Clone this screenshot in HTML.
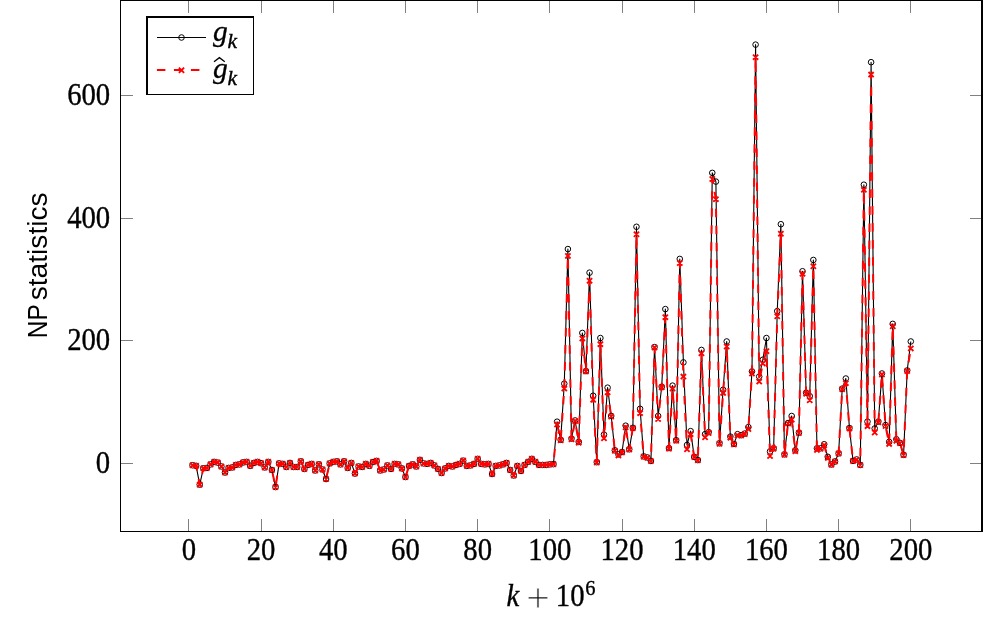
<!DOCTYPE html>
<html lang="en"><head><meta charset="utf-8"><title>NP statistics</title>
<style>html,body{margin:0;padding:0;background:#fff}body{width:991px;height:618px;overflow:hidden}svg{display:block}.t{font-family:"Liberation Serif",serif;fill:#000;stroke:#000;stroke-width:0.35px}.s{font-family:"Liberation Sans",sans-serif;fill:#000}</style></head><body>
<svg width="991" height="618" viewBox="0 0 991 618">
<rect width="991" height="618" fill="#fff"/>
<g opacity="0.999">
<path d="M188.5 531V519M188.5 1V13M261.5 531V519M261.5 1V13M333.5 531V519M333.5 1V13M405.5 531V519M405.5 1V13M477.5 531V519M477.5 1V13M549.5 531V519M549.5 1V13M622.5 531V519M622.5 1V13M694.5 531V519M694.5 1V13M766.5 531V519M766.5 1V13M838.5 531V519M838.5 1V13M910.5 531V519M910.5 1V13M121 463.5H133M982 463.5H970M121 340.5H133M982 340.5H970M121 218.5H133M982 218.5H970M121 95.5H133M982 95.5H970" stroke="#808080" stroke-width="1" fill="none" shape-rendering="crispEdges"/>
<path d="M120 0.5H983M120 531.5H983M120.5 0V532" fill="none" stroke="#000" stroke-width="1" shape-rendering="crispEdges"/>
<path d="M982 0V532" fill="none" stroke="#000" stroke-width="2" shape-rendering="crispEdges"/>
<polyline points="192.51,465.24 196.12,465.85 199.73,484.62 203.34,468.31 206.95,467.94 210.56,464.38 214.17,461.87 217.78,462.60 221.39,466.47 225.00,472.48 228.60,467.94 232.21,467.45 235.82,464.93 239.43,464.38 243.04,462.42 246.65,461.87 250.26,465.85 253.87,462.91 257.48,461.87 261.09,463.22 264.70,467.45 268.31,461.87 271.92,469.96 275.53,487.07 279.14,463.40 282.75,463.89 286.36,466.96 289.97,462.91 293.58,466.96 297.19,466.96 300.79,461.38 304.40,468.92 308.01,464.93 311.62,463.89 315.23,470.45 318.84,464.38 322.45,469.47 326.06,479.04 329.67,463.40 333.28,461.87 336.89,461.38 340.50,464.38 344.11,461.38 347.72,467.94 351.33,462.91 354.94,473.52 358.55,466.47 362.16,466.96 365.77,463.89 369.38,465.85 372.98,462.05 376.59,460.89 380.20,470.45 383.81,469.47 387.42,465.42 391.03,468.92 394.64,463.89 398.25,464.38 401.86,468.43 405.47,477.02 409.08,465.91 412.69,464.38 416.30,466.47 419.91,459.84 423.52,463.40 427.13,463.89 430.74,462.91 434.35,465.42 437.96,468.92 441.57,472.97 445.17,468.43 448.78,465.91 452.39,466.47 456.00,464.93 459.61,463.89 463.22,460.64 466.83,465.91 470.44,465.42 474.05,463.89 477.66,458.86 481.27,463.89 484.88,464.38 488.49,463.89 492.10,474.01 495.71,465.91 499.32,465.42 502.93,464.38 506.54,462.91 510.15,469.96 513.75,475.48 517.36,465.91 520.97,470.94 524.58,464.93 528.19,461.87 531.80,458.86 535.41,461.87 539.02,464.93 542.63,464.93 546.24,464.93 549.85,464.38 553.46,464.14 557.07,421.70 560.68,439.85 564.29,383.67 567.90,249.05 571.51,438.62 575.12,420.47 578.73,441.93 582.34,332.95 585.95,371.10 589.55,272.66 593.16,395.75 596.77,462.17 600.38,338.04 603.99,434.57 607.60,387.66 611.21,415.99 614.82,450.34 618.43,454.38 622.04,451.99 625.65,425.68 629.26,449.29 632.87,427.83 636.48,226.79 640.09,408.82 643.70,456.41 647.31,457.45 650.92,460.95 654.53,347.12 658.13,415.99 661.74,386.74 665.35,309.09 668.96,448.07 672.57,385.63 676.18,440.22 679.79,258.93 683.40,362.39 687.01,445.00 690.62,431.14 694.23,456.84 697.84,460.09 701.45,349.94 705.06,434.15 708.67,432.12 712.28,172.88 715.89,181.59 719.50,443.28 723.11,389.80 726.72,341.48 730.33,436.60 733.93,443.90 737.54,434.15 741.15,435.19 744.76,433.59 748.37,427.09 751.98,371.40 755.59,44.64 759.20,376.56 762.81,359.75 766.42,338.04 770.03,451.38 773.64,448.31 777.25,311.12 780.86,224.21 784.47,454.38 788.08,423.04 791.69,415.99 795.30,450.34 798.91,432.55 802.51,271.25 806.12,392.69 809.73,396.12 813.34,259.97 816.95,448.31 820.56,448.31 824.17,444.27 827.78,456.84 831.39,464.50 835.00,461.50 838.61,453.40 842.22,388.64 845.83,378.52 849.44,428.14 853.05,460.89 856.66,459.47 860.27,464.93 863.88,184.72 867.49,421.63 871.10,62.18 874.71,428.50 878.31,421.63 881.92,373.49 885.53,425.07 889.14,441.87 892.75,323.87 896.36,439.24 899.97,442.85 903.58,454.81 907.19,370.49 910.80,341.48" fill="none" stroke="#000" stroke-width="1.1" stroke-linejoin="round"/>
<g fill="none" stroke="#000" stroke-width="1">
<circle cx="192.51" cy="465.24" r="2.8"/>
<circle cx="196.12" cy="465.85" r="2.8"/>
<circle cx="199.73" cy="484.62" r="2.8"/>
<circle cx="203.34" cy="468.31" r="2.8"/>
<circle cx="206.95" cy="467.94" r="2.8"/>
<circle cx="210.56" cy="464.38" r="2.8"/>
<circle cx="214.17" cy="461.87" r="2.8"/>
<circle cx="217.78" cy="462.60" r="2.8"/>
<circle cx="221.39" cy="466.47" r="2.8"/>
<circle cx="225.00" cy="472.48" r="2.8"/>
<circle cx="228.60" cy="467.94" r="2.8"/>
<circle cx="232.21" cy="467.45" r="2.8"/>
<circle cx="235.82" cy="464.93" r="2.8"/>
<circle cx="239.43" cy="464.38" r="2.8"/>
<circle cx="243.04" cy="462.42" r="2.8"/>
<circle cx="246.65" cy="461.87" r="2.8"/>
<circle cx="250.26" cy="465.85" r="2.8"/>
<circle cx="253.87" cy="462.91" r="2.8"/>
<circle cx="257.48" cy="461.87" r="2.8"/>
<circle cx="261.09" cy="463.22" r="2.8"/>
<circle cx="264.70" cy="467.45" r="2.8"/>
<circle cx="268.31" cy="461.87" r="2.8"/>
<circle cx="271.92" cy="469.96" r="2.8"/>
<circle cx="275.53" cy="487.07" r="2.8"/>
<circle cx="279.14" cy="463.40" r="2.8"/>
<circle cx="282.75" cy="463.89" r="2.8"/>
<circle cx="286.36" cy="466.96" r="2.8"/>
<circle cx="289.97" cy="462.91" r="2.8"/>
<circle cx="293.58" cy="466.96" r="2.8"/>
<circle cx="297.19" cy="466.96" r="2.8"/>
<circle cx="300.79" cy="461.38" r="2.8"/>
<circle cx="304.40" cy="468.92" r="2.8"/>
<circle cx="308.01" cy="464.93" r="2.8"/>
<circle cx="311.62" cy="463.89" r="2.8"/>
<circle cx="315.23" cy="470.45" r="2.8"/>
<circle cx="318.84" cy="464.38" r="2.8"/>
<circle cx="322.45" cy="469.47" r="2.8"/>
<circle cx="326.06" cy="479.04" r="2.8"/>
<circle cx="329.67" cy="463.40" r="2.8"/>
<circle cx="333.28" cy="461.87" r="2.8"/>
<circle cx="336.89" cy="461.38" r="2.8"/>
<circle cx="340.50" cy="464.38" r="2.8"/>
<circle cx="344.11" cy="461.38" r="2.8"/>
<circle cx="347.72" cy="467.94" r="2.8"/>
<circle cx="351.33" cy="462.91" r="2.8"/>
<circle cx="354.94" cy="473.52" r="2.8"/>
<circle cx="358.55" cy="466.47" r="2.8"/>
<circle cx="362.16" cy="466.96" r="2.8"/>
<circle cx="365.77" cy="463.89" r="2.8"/>
<circle cx="369.38" cy="465.85" r="2.8"/>
<circle cx="372.98" cy="462.05" r="2.8"/>
<circle cx="376.59" cy="460.89" r="2.8"/>
<circle cx="380.20" cy="470.45" r="2.8"/>
<circle cx="383.81" cy="469.47" r="2.8"/>
<circle cx="387.42" cy="465.42" r="2.8"/>
<circle cx="391.03" cy="468.92" r="2.8"/>
<circle cx="394.64" cy="463.89" r="2.8"/>
<circle cx="398.25" cy="464.38" r="2.8"/>
<circle cx="401.86" cy="468.43" r="2.8"/>
<circle cx="405.47" cy="477.02" r="2.8"/>
<circle cx="409.08" cy="465.91" r="2.8"/>
<circle cx="412.69" cy="464.38" r="2.8"/>
<circle cx="416.30" cy="466.47" r="2.8"/>
<circle cx="419.91" cy="459.84" r="2.8"/>
<circle cx="423.52" cy="463.40" r="2.8"/>
<circle cx="427.13" cy="463.89" r="2.8"/>
<circle cx="430.74" cy="462.91" r="2.8"/>
<circle cx="434.35" cy="465.42" r="2.8"/>
<circle cx="437.96" cy="468.92" r="2.8"/>
<circle cx="441.57" cy="472.97" r="2.8"/>
<circle cx="445.17" cy="468.43" r="2.8"/>
<circle cx="448.78" cy="465.91" r="2.8"/>
<circle cx="452.39" cy="466.47" r="2.8"/>
<circle cx="456.00" cy="464.93" r="2.8"/>
<circle cx="459.61" cy="463.89" r="2.8"/>
<circle cx="463.22" cy="460.64" r="2.8"/>
<circle cx="466.83" cy="465.91" r="2.8"/>
<circle cx="470.44" cy="465.42" r="2.8"/>
<circle cx="474.05" cy="463.89" r="2.8"/>
<circle cx="477.66" cy="458.86" r="2.8"/>
<circle cx="481.27" cy="463.89" r="2.8"/>
<circle cx="484.88" cy="464.38" r="2.8"/>
<circle cx="488.49" cy="463.89" r="2.8"/>
<circle cx="492.10" cy="474.01" r="2.8"/>
<circle cx="495.71" cy="465.91" r="2.8"/>
<circle cx="499.32" cy="465.42" r="2.8"/>
<circle cx="502.93" cy="464.38" r="2.8"/>
<circle cx="506.54" cy="462.91" r="2.8"/>
<circle cx="510.15" cy="469.96" r="2.8"/>
<circle cx="513.75" cy="475.48" r="2.8"/>
<circle cx="517.36" cy="465.91" r="2.8"/>
<circle cx="520.97" cy="470.94" r="2.8"/>
<circle cx="524.58" cy="464.93" r="2.8"/>
<circle cx="528.19" cy="461.87" r="2.8"/>
<circle cx="531.80" cy="458.86" r="2.8"/>
<circle cx="535.41" cy="461.87" r="2.8"/>
<circle cx="539.02" cy="464.93" r="2.8"/>
<circle cx="542.63" cy="464.93" r="2.8"/>
<circle cx="546.24" cy="464.93" r="2.8"/>
<circle cx="549.85" cy="464.38" r="2.8"/>
<circle cx="553.46" cy="464.14" r="2.8"/>
<circle cx="557.07" cy="421.70" r="2.8"/>
<circle cx="560.68" cy="439.85" r="2.8"/>
<circle cx="564.29" cy="383.67" r="2.8"/>
<circle cx="567.90" cy="249.05" r="2.8"/>
<circle cx="571.51" cy="438.62" r="2.8"/>
<circle cx="575.12" cy="420.47" r="2.8"/>
<circle cx="578.73" cy="441.93" r="2.8"/>
<circle cx="582.34" cy="332.95" r="2.8"/>
<circle cx="585.95" cy="371.10" r="2.8"/>
<circle cx="589.55" cy="272.66" r="2.8"/>
<circle cx="593.16" cy="395.75" r="2.8"/>
<circle cx="596.77" cy="462.17" r="2.8"/>
<circle cx="600.38" cy="338.04" r="2.8"/>
<circle cx="603.99" cy="434.57" r="2.8"/>
<circle cx="607.60" cy="387.66" r="2.8"/>
<circle cx="611.21" cy="415.99" r="2.8"/>
<circle cx="614.82" cy="450.34" r="2.8"/>
<circle cx="618.43" cy="454.38" r="2.8"/>
<circle cx="622.04" cy="451.99" r="2.8"/>
<circle cx="625.65" cy="425.68" r="2.8"/>
<circle cx="629.26" cy="449.29" r="2.8"/>
<circle cx="632.87" cy="427.83" r="2.8"/>
<circle cx="636.48" cy="226.79" r="2.8"/>
<circle cx="640.09" cy="408.82" r="2.8"/>
<circle cx="643.70" cy="456.41" r="2.8"/>
<circle cx="647.31" cy="457.45" r="2.8"/>
<circle cx="650.92" cy="460.95" r="2.8"/>
<circle cx="654.53" cy="347.12" r="2.8"/>
<circle cx="658.13" cy="415.99" r="2.8"/>
<circle cx="661.74" cy="386.74" r="2.8"/>
<circle cx="665.35" cy="309.09" r="2.8"/>
<circle cx="668.96" cy="448.07" r="2.8"/>
<circle cx="672.57" cy="385.63" r="2.8"/>
<circle cx="676.18" cy="440.22" r="2.8"/>
<circle cx="679.79" cy="258.93" r="2.8"/>
<circle cx="683.40" cy="362.39" r="2.8"/>
<circle cx="687.01" cy="445.00" r="2.8"/>
<circle cx="690.62" cy="431.14" r="2.8"/>
<circle cx="694.23" cy="456.84" r="2.8"/>
<circle cx="697.84" cy="460.09" r="2.8"/>
<circle cx="701.45" cy="349.94" r="2.8"/>
<circle cx="705.06" cy="434.15" r="2.8"/>
<circle cx="708.67" cy="432.12" r="2.8"/>
<circle cx="712.28" cy="172.88" r="2.8"/>
<circle cx="715.89" cy="181.59" r="2.8"/>
<circle cx="719.50" cy="443.28" r="2.8"/>
<circle cx="723.11" cy="389.80" r="2.8"/>
<circle cx="726.72" cy="341.48" r="2.8"/>
<circle cx="730.33" cy="436.60" r="2.8"/>
<circle cx="733.93" cy="443.90" r="2.8"/>
<circle cx="737.54" cy="434.15" r="2.8"/>
<circle cx="741.15" cy="435.19" r="2.8"/>
<circle cx="744.76" cy="433.59" r="2.8"/>
<circle cx="748.37" cy="427.09" r="2.8"/>
<circle cx="751.98" cy="371.40" r="2.8"/>
<circle cx="755.59" cy="44.64" r="2.8"/>
<circle cx="759.20" cy="376.56" r="2.8"/>
<circle cx="762.81" cy="359.75" r="2.8"/>
<circle cx="766.42" cy="338.04" r="2.8"/>
<circle cx="770.03" cy="451.38" r="2.8"/>
<circle cx="773.64" cy="448.31" r="2.8"/>
<circle cx="777.25" cy="311.12" r="2.8"/>
<circle cx="780.86" cy="224.21" r="2.8"/>
<circle cx="784.47" cy="454.38" r="2.8"/>
<circle cx="788.08" cy="423.04" r="2.8"/>
<circle cx="791.69" cy="415.99" r="2.8"/>
<circle cx="795.30" cy="450.34" r="2.8"/>
<circle cx="798.91" cy="432.55" r="2.8"/>
<circle cx="802.51" cy="271.25" r="2.8"/>
<circle cx="806.12" cy="392.69" r="2.8"/>
<circle cx="809.73" cy="396.12" r="2.8"/>
<circle cx="813.34" cy="259.97" r="2.8"/>
<circle cx="816.95" cy="448.31" r="2.8"/>
<circle cx="820.56" cy="448.31" r="2.8"/>
<circle cx="824.17" cy="444.27" r="2.8"/>
<circle cx="827.78" cy="456.84" r="2.8"/>
<circle cx="831.39" cy="464.50" r="2.8"/>
<circle cx="835.00" cy="461.50" r="2.8"/>
<circle cx="838.61" cy="453.40" r="2.8"/>
<circle cx="842.22" cy="388.64" r="2.8"/>
<circle cx="845.83" cy="378.52" r="2.8"/>
<circle cx="849.44" cy="428.14" r="2.8"/>
<circle cx="853.05" cy="460.89" r="2.8"/>
<circle cx="856.66" cy="459.47" r="2.8"/>
<circle cx="860.27" cy="464.93" r="2.8"/>
<circle cx="863.88" cy="184.72" r="2.8"/>
<circle cx="867.49" cy="421.63" r="2.8"/>
<circle cx="871.10" cy="62.18" r="2.8"/>
<circle cx="874.71" cy="428.50" r="2.8"/>
<circle cx="878.31" cy="421.63" r="2.8"/>
<circle cx="881.92" cy="373.49" r="2.8"/>
<circle cx="885.53" cy="425.07" r="2.8"/>
<circle cx="889.14" cy="441.87" r="2.8"/>
<circle cx="892.75" cy="323.87" r="2.8"/>
<circle cx="896.36" cy="439.24" r="2.8"/>
<circle cx="899.97" cy="442.85" r="2.8"/>
<circle cx="903.58" cy="454.81" r="2.8"/>
<circle cx="907.19" cy="370.49" r="2.8"/>
<circle cx="910.80" cy="341.48" r="2.8"/>
</g>
<polyline points="192.51,465.24 196.12,465.85 199.73,484.62 203.34,468.31 206.95,467.94 210.56,464.38 214.17,461.87 217.78,462.60 221.39,466.47 225.00,472.48 228.60,467.94 232.21,467.45 235.82,464.93 239.43,464.38 243.04,462.42 246.65,461.87 250.26,465.85 253.87,462.91 257.48,461.87 261.09,463.22 264.70,467.45 268.31,461.87 271.92,469.96 275.53,487.07 279.14,463.40 282.75,463.89 286.36,466.96 289.97,462.91 293.58,466.96 297.19,466.96 300.79,461.38 304.40,468.92 308.01,464.93 311.62,463.89 315.23,470.45 318.84,464.38 322.45,469.47 326.06,479.04 329.67,463.40 333.28,461.87 336.89,461.38 340.50,464.38 344.11,461.38 347.72,467.94 351.33,462.91 354.94,473.52 358.55,466.47 362.16,466.96 365.77,463.89 369.38,465.85 372.98,462.05 376.59,460.89 380.20,470.45 383.81,469.47 387.42,465.42 391.03,468.92 394.64,463.89 398.25,464.38 401.86,468.43 405.47,477.02 409.08,465.91 412.69,464.38 416.30,466.47 419.91,459.84 423.52,463.40 427.13,463.89 430.74,462.91 434.35,465.42 437.96,468.92 441.57,472.97 445.17,468.43 448.78,465.91 452.39,466.47 456.00,464.93 459.61,463.89 463.22,460.64 466.83,465.91 470.44,465.42 474.05,463.89 477.66,458.86 481.27,463.89 484.88,464.38 488.49,463.89 492.10,474.01 495.71,465.91 499.32,465.42 502.93,464.38 506.54,462.91 510.15,469.96 513.75,475.48 517.36,465.91 520.97,470.94 524.58,464.93 528.19,461.87 531.80,458.86 535.41,461.87 539.02,464.93 542.63,464.93 546.24,464.93 549.85,464.38 553.46,464.14 557.07,424.46 560.68,440.22 564.29,388.58 567.90,255.92 571.51,439.24 575.12,421.08 578.73,442.67 582.34,338.41 585.95,371.40 589.55,280.76 593.16,399.80 596.77,462.48 600.38,344.11 603.99,438.25 607.60,392.26 611.21,416.48 614.82,450.77 618.43,455.43 622.04,452.36 625.65,427.22 629.26,449.60 632.87,428.14 636.48,234.27 640.09,413.11 643.70,456.65 647.31,457.70 650.92,461.07 654.53,347.49 658.13,419.00 661.74,387.35 665.35,317.19 668.96,448.68 672.57,388.58 676.18,440.71 679.79,262.97 683.40,376.56 687.01,449.29 690.62,434.15 694.23,457.08 697.84,460.33 701.45,353.25 705.06,437.21 708.67,433.04 712.28,178.95 715.89,199.19 719.50,443.77 723.11,392.87 726.72,346.51 730.33,437.64 733.93,444.39 737.54,435.49 741.15,435.49 744.76,433.96 748.37,429.06 751.98,373.49 755.59,57.15 759.20,381.59 762.81,363.43 766.42,351.17 770.03,456.04 773.64,448.68 777.25,316.21 780.86,233.72 784.47,454.81 788.08,423.54 791.69,419.61 795.30,451.13 798.91,433.04 802.51,273.71 806.12,393.79 809.73,400.23 813.34,266.22 816.95,449.91 820.56,448.68 824.17,445.31 827.78,457.88 831.39,464.63 835.00,461.56 838.61,453.59 842.22,389.19 845.83,383.18 849.44,428.44 853.05,460.95 856.66,459.72 860.27,465.06 863.88,189.81 867.49,426.11 871.10,74.57 874.71,432.55 878.31,422.31 881.92,374.47 885.53,425.99 889.14,443.90 892.75,326.27 896.36,440.71 899.97,443.16 903.58,455.06 907.19,371.10 910.80,348.41" fill="none" stroke="#f00" stroke-width="2" stroke-dasharray="8.5 8.5" stroke-linejoin="round"/>
<path d="M189.91 462.64l5.20 5.20M189.91 467.84l5.20 -5.20M193.52 463.25l5.20 5.20M193.52 468.45l5.20 -5.20M197.13 482.02l5.20 5.20M197.13 487.22l5.20 -5.20M200.74 465.71l5.20 5.20M200.74 470.91l5.20 -5.20M204.35 465.34l5.20 5.20M204.35 470.54l5.20 -5.20M207.96 461.78l5.20 5.20M207.96 466.98l5.20 -5.20M211.57 459.27l5.20 5.20M211.57 464.47l5.20 -5.20M215.18 460.00l5.20 5.20M215.18 465.20l5.20 -5.20M218.79 463.87l5.20 5.20M218.79 469.07l5.20 -5.20M222.40 469.88l5.20 5.20M222.40 475.08l5.20 -5.20M226.00 465.34l5.20 5.20M226.00 470.54l5.20 -5.20M229.61 464.85l5.20 5.20M229.61 470.05l5.20 -5.20M233.22 462.33l5.20 5.20M233.22 467.53l5.20 -5.20M236.83 461.78l5.20 5.20M236.83 466.98l5.20 -5.20M240.44 459.82l5.20 5.20M240.44 465.02l5.20 -5.20M244.05 459.27l5.20 5.20M244.05 464.47l5.20 -5.20M247.66 463.25l5.20 5.20M247.66 468.45l5.20 -5.20M251.27 460.31l5.20 5.20M251.27 465.51l5.20 -5.20M254.88 459.27l5.20 5.20M254.88 464.47l5.20 -5.20M258.49 460.62l5.20 5.20M258.49 465.82l5.20 -5.20M262.10 464.85l5.20 5.20M262.10 470.05l5.20 -5.20M265.71 459.27l5.20 5.20M265.71 464.47l5.20 -5.20M269.32 467.36l5.20 5.20M269.32 472.56l5.20 -5.20M272.93 484.47l5.20 5.20M272.93 489.67l5.20 -5.20M276.54 460.80l5.20 5.20M276.54 466.00l5.20 -5.20M280.15 461.29l5.20 5.20M280.15 466.49l5.20 -5.20M283.76 464.36l5.20 5.20M283.76 469.56l5.20 -5.20M287.37 460.31l5.20 5.20M287.37 465.51l5.20 -5.20M290.98 464.36l5.20 5.20M290.98 469.56l5.20 -5.20M294.58 464.36l5.20 5.20M294.58 469.56l5.20 -5.20M298.19 458.78l5.20 5.20M298.19 463.98l5.20 -5.20M301.80 466.32l5.20 5.20M301.80 471.52l5.20 -5.20M305.41 462.33l5.20 5.20M305.41 467.53l5.20 -5.20M309.02 461.29l5.20 5.20M309.02 466.49l5.20 -5.20M312.63 467.85l5.20 5.20M312.63 473.05l5.20 -5.20M316.24 461.78l5.20 5.20M316.24 466.98l5.20 -5.20M319.85 466.87l5.20 5.20M319.85 472.07l5.20 -5.20M323.46 476.44l5.20 5.20M323.46 481.64l5.20 -5.20M327.07 460.80l5.20 5.20M327.07 466.00l5.20 -5.20M330.68 459.27l5.20 5.20M330.68 464.47l5.20 -5.20M334.29 458.78l5.20 5.20M334.29 463.98l5.20 -5.20M337.90 461.78l5.20 5.20M337.90 466.98l5.20 -5.20M341.51 458.78l5.20 5.20M341.51 463.98l5.20 -5.20M345.12 465.34l5.20 5.20M345.12 470.54l5.20 -5.20M348.73 460.31l5.20 5.20M348.73 465.51l5.20 -5.20M352.34 470.92l5.20 5.20M352.34 476.12l5.20 -5.20M355.95 463.87l5.20 5.20M355.95 469.07l5.20 -5.20M359.56 464.36l5.20 5.20M359.56 469.56l5.20 -5.20M363.17 461.29l5.20 5.20M363.17 466.49l5.20 -5.20M366.77 463.25l5.20 5.20M366.77 468.45l5.20 -5.20M370.38 459.45l5.20 5.20M370.38 464.65l5.20 -5.20M373.99 458.29l5.20 5.20M373.99 463.49l5.20 -5.20M377.60 467.85l5.20 5.20M377.60 473.05l5.20 -5.20M381.21 466.87l5.20 5.20M381.21 472.07l5.20 -5.20M384.82 462.82l5.20 5.20M384.82 468.02l5.20 -5.20M388.43 466.32l5.20 5.20M388.43 471.52l5.20 -5.20M392.04 461.29l5.20 5.20M392.04 466.49l5.20 -5.20M395.65 461.78l5.20 5.20M395.65 466.98l5.20 -5.20M399.26 465.83l5.20 5.20M399.26 471.03l5.20 -5.20M402.87 474.42l5.20 5.20M402.87 479.62l5.20 -5.20M406.48 463.31l5.20 5.20M406.48 468.51l5.20 -5.20M410.09 461.78l5.20 5.20M410.09 466.98l5.20 -5.20M413.70 463.87l5.20 5.20M413.70 469.07l5.20 -5.20M417.31 457.24l5.20 5.20M417.31 462.44l5.20 -5.20M420.92 460.80l5.20 5.20M420.92 466.00l5.20 -5.20M424.53 461.29l5.20 5.20M424.53 466.49l5.20 -5.20M428.14 460.31l5.20 5.20M428.14 465.51l5.20 -5.20M431.75 462.82l5.20 5.20M431.75 468.02l5.20 -5.20M435.36 466.32l5.20 5.20M435.36 471.52l5.20 -5.20M438.97 470.37l5.20 5.20M438.97 475.57l5.20 -5.20M442.57 465.83l5.20 5.20M442.57 471.03l5.20 -5.20M446.18 463.31l5.20 5.20M446.18 468.51l5.20 -5.20M449.79 463.87l5.20 5.20M449.79 469.07l5.20 -5.20M453.40 462.33l5.20 5.20M453.40 467.53l5.20 -5.20M457.01 461.29l5.20 5.20M457.01 466.49l5.20 -5.20M460.62 458.04l5.20 5.20M460.62 463.24l5.20 -5.20M464.23 463.31l5.20 5.20M464.23 468.51l5.20 -5.20M467.84 462.82l5.20 5.20M467.84 468.02l5.20 -5.20M471.45 461.29l5.20 5.20M471.45 466.49l5.20 -5.20M475.06 456.26l5.20 5.20M475.06 461.46l5.20 -5.20M478.67 461.29l5.20 5.20M478.67 466.49l5.20 -5.20M482.28 461.78l5.20 5.20M482.28 466.98l5.20 -5.20M485.89 461.29l5.20 5.20M485.89 466.49l5.20 -5.20M489.50 471.41l5.20 5.20M489.50 476.61l5.20 -5.20M493.11 463.31l5.20 5.20M493.11 468.51l5.20 -5.20M496.72 462.82l5.20 5.20M496.72 468.02l5.20 -5.20M500.33 461.78l5.20 5.20M500.33 466.98l5.20 -5.20M503.94 460.31l5.20 5.20M503.94 465.51l5.20 -5.20M507.55 467.36l5.20 5.20M507.55 472.56l5.20 -5.20M511.15 472.88l5.20 5.20M511.15 478.08l5.20 -5.20M514.76 463.31l5.20 5.20M514.76 468.51l5.20 -5.20M518.37 468.34l5.20 5.20M518.37 473.54l5.20 -5.20M521.98 462.33l5.20 5.20M521.98 467.53l5.20 -5.20M525.59 459.27l5.20 5.20M525.59 464.47l5.20 -5.20M529.20 456.26l5.20 5.20M529.20 461.46l5.20 -5.20M532.81 459.27l5.20 5.20M532.81 464.47l5.20 -5.20M536.42 462.33l5.20 5.20M536.42 467.53l5.20 -5.20M540.03 462.33l5.20 5.20M540.03 467.53l5.20 -5.20M543.64 462.33l5.20 5.20M543.64 467.53l5.20 -5.20M547.25 461.78l5.20 5.20M547.25 466.98l5.20 -5.20M550.86 461.54l5.20 5.20M550.86 466.74l5.20 -5.20M554.47 421.86l5.20 5.20M554.47 427.06l5.20 -5.20M558.08 437.62l5.20 5.20M558.08 442.82l5.20 -5.20M561.69 385.98l5.20 5.20M561.69 391.18l5.20 -5.20M565.30 253.32l5.20 5.20M565.30 258.52l5.20 -5.20M568.91 436.64l5.20 5.20M568.91 441.84l5.20 -5.20M572.52 418.48l5.20 5.20M572.52 423.68l5.20 -5.20M576.13 440.07l5.20 5.20M576.13 445.27l5.20 -5.20M579.74 335.81l5.20 5.20M579.74 341.01l5.20 -5.20M583.35 368.80l5.20 5.20M583.35 374.00l5.20 -5.20M586.95 278.16l5.20 5.20M586.95 283.36l5.20 -5.20M590.56 397.20l5.20 5.20M590.56 402.40l5.20 -5.20M594.17 459.88l5.20 5.20M594.17 465.08l5.20 -5.20M597.78 341.51l5.20 5.20M597.78 346.71l5.20 -5.20M601.39 435.65l5.20 5.20M601.39 440.85l5.20 -5.20M605.00 389.66l5.20 5.20M605.00 394.86l5.20 -5.20M608.61 413.88l5.20 5.20M608.61 419.08l5.20 -5.20M612.22 448.17l5.20 5.20M612.22 453.37l5.20 -5.20M615.83 452.83l5.20 5.20M615.83 458.03l5.20 -5.20M619.44 449.76l5.20 5.20M619.44 454.96l5.20 -5.20M623.05 424.62l5.20 5.20M623.05 429.82l5.20 -5.20M626.66 447.00l5.20 5.20M626.66 452.20l5.20 -5.20M630.27 425.54l5.20 5.20M630.27 430.74l5.20 -5.20M633.88 231.67l5.20 5.20M633.88 236.87l5.20 -5.20M637.49 410.51l5.20 5.20M637.49 415.71l5.20 -5.20M641.10 454.05l5.20 5.20M641.10 459.25l5.20 -5.20M644.71 455.10l5.20 5.20M644.71 460.30l5.20 -5.20M648.32 458.47l5.20 5.20M648.32 463.67l5.20 -5.20M651.93 344.89l5.20 5.20M651.93 350.09l5.20 -5.20M655.53 416.40l5.20 5.20M655.53 421.60l5.20 -5.20M659.14 384.75l5.20 5.20M659.14 389.95l5.20 -5.20M662.75 314.59l5.20 5.20M662.75 319.79l5.20 -5.20M666.36 446.08l5.20 5.20M666.36 451.28l5.20 -5.20M669.97 385.98l5.20 5.20M669.97 391.18l5.20 -5.20M673.58 438.11l5.20 5.20M673.58 443.31l5.20 -5.20M677.19 260.37l5.20 5.20M677.19 265.57l5.20 -5.20M680.80 373.96l5.20 5.20M680.80 379.16l5.20 -5.20M684.41 446.69l5.20 5.20M684.41 451.89l5.20 -5.20M688.02 431.55l5.20 5.20M688.02 436.75l5.20 -5.20M691.63 454.48l5.20 5.20M691.63 459.68l5.20 -5.20M695.24 457.73l5.20 5.20M695.24 462.93l5.20 -5.20M698.85 350.65l5.20 5.20M698.85 355.85l5.20 -5.20M702.46 434.61l5.20 5.20M702.46 439.81l5.20 -5.20M706.07 430.44l5.20 5.20M706.07 435.64l5.20 -5.20M709.68 176.35l5.20 5.20M709.68 181.55l5.20 -5.20M713.29 196.59l5.20 5.20M713.29 201.79l5.20 -5.20M716.90 441.17l5.20 5.20M716.90 446.37l5.20 -5.20M720.51 390.27l5.20 5.20M720.51 395.47l5.20 -5.20M724.12 343.91l5.20 5.20M724.12 349.11l5.20 -5.20M727.73 435.04l5.20 5.20M727.73 440.24l5.20 -5.20M731.33 441.79l5.20 5.20M731.33 446.99l5.20 -5.20M734.94 432.89l5.20 5.20M734.94 438.09l5.20 -5.20M738.55 432.89l5.20 5.20M738.55 438.09l5.20 -5.20M742.16 431.36l5.20 5.20M742.16 436.56l5.20 -5.20M745.77 426.46l5.20 5.20M745.77 431.66l5.20 -5.20M749.38 370.89l5.20 5.20M749.38 376.09l5.20 -5.20M752.99 54.55l5.20 5.20M752.99 59.75l5.20 -5.20M756.60 378.99l5.20 5.20M756.60 384.19l5.20 -5.20M760.21 360.83l5.20 5.20M760.21 366.03l5.20 -5.20M763.82 348.57l5.20 5.20M763.82 353.77l5.20 -5.20M767.43 453.44l5.20 5.20M767.43 458.64l5.20 -5.20M771.04 446.08l5.20 5.20M771.04 451.28l5.20 -5.20M774.65 313.61l5.20 5.20M774.65 318.81l5.20 -5.20M778.26 231.12l5.20 5.20M778.26 236.32l5.20 -5.20M781.87 452.21l5.20 5.20M781.87 457.41l5.20 -5.20M785.48 420.94l5.20 5.20M785.48 426.14l5.20 -5.20M789.09 417.01l5.20 5.20M789.09 422.21l5.20 -5.20M792.70 448.53l5.20 5.20M792.70 453.73l5.20 -5.20M796.31 430.44l5.20 5.20M796.31 435.64l5.20 -5.20M799.91 271.11l5.20 5.20M799.91 276.31l5.20 -5.20M803.52 391.19l5.20 5.20M803.52 396.39l5.20 -5.20M807.13 397.63l5.20 5.20M807.13 402.83l5.20 -5.20M810.74 263.62l5.20 5.20M810.74 268.82l5.20 -5.20M814.35 447.31l5.20 5.20M814.35 452.51l5.20 -5.20M817.96 446.08l5.20 5.20M817.96 451.28l5.20 -5.20M821.57 442.71l5.20 5.20M821.57 447.91l5.20 -5.20M825.18 455.28l5.20 5.20M825.18 460.48l5.20 -5.20M828.79 462.03l5.20 5.20M828.79 467.23l5.20 -5.20M832.40 458.96l5.20 5.20M832.40 464.16l5.20 -5.20M836.01 450.99l5.20 5.20M836.01 456.19l5.20 -5.20M839.62 386.59l5.20 5.20M839.62 391.79l5.20 -5.20M843.23 380.58l5.20 5.20M843.23 385.78l5.20 -5.20M846.84 425.84l5.20 5.20M846.84 431.04l5.20 -5.20M850.45 458.35l5.20 5.20M850.45 463.55l5.20 -5.20M854.06 457.12l5.20 5.20M854.06 462.32l5.20 -5.20M857.67 462.46l5.20 5.20M857.67 467.66l5.20 -5.20M861.28 187.21l5.20 5.20M861.28 192.41l5.20 -5.20M864.89 423.51l5.20 5.20M864.89 428.71l5.20 -5.20M868.50 71.97l5.20 5.20M868.50 77.17l5.20 -5.20M872.11 429.95l5.20 5.20M872.11 435.15l5.20 -5.20M875.71 419.71l5.20 5.20M875.71 424.91l5.20 -5.20M879.32 371.87l5.20 5.20M879.32 377.07l5.20 -5.20M882.93 423.39l5.20 5.20M882.93 428.59l5.20 -5.20M886.54 441.30l5.20 5.20M886.54 446.50l5.20 -5.20M890.15 323.67l5.20 5.20M890.15 328.87l5.20 -5.20M893.76 438.11l5.20 5.20M893.76 443.31l5.20 -5.20M897.37 440.56l5.20 5.20M897.37 445.76l5.20 -5.20M900.98 452.46l5.20 5.20M900.98 457.66l5.20 -5.20M904.59 368.50l5.20 5.20M904.59 373.70l5.20 -5.20M908.20 345.81l5.20 5.20M908.20 351.01l5.20 -5.20" stroke="#f00" stroke-width="1.9" fill="none"/>
<rect x="147" y="17" width="106.5" height="77.5" fill="#fff"/>
<path d="M146 17H254M147 16V95" stroke="#000" stroke-width="2" fill="none" shape-rendering="crispEdges"/>
<path d="M146 94.5H254M253.5 16V95" stroke="#000" stroke-width="1" fill="none" shape-rendering="crispEdges"/>
<path d="M157 37.5H206" stroke="#000" stroke-width="1" shape-rendering="crispEdges"/>
<circle cx="181.5" cy="37.5" r="2.8" fill="none" stroke="#000" stroke-width="1"/>
<path d="M156.9 70H206" stroke="#f00" stroke-width="2" stroke-dasharray="8.5 8.5"/>
<path d="M178.90 67.60l5.20 5.20M178.90 72.80l5.20 -5.20" stroke="#f00" stroke-width="1.9" fill="none"/>
<text class="t" font-style="italic" font-size="29.5" x="213" y="41">g</text>
<text class="t" font-style="italic" font-size="21.5" x="227.4" y="47.9">k</text>
<text class="t" font-style="italic" font-size="29.5" x="213" y="78.3">g</text>
<text class="t" font-style="italic" font-size="21.5" x="227.4" y="85.3">k</text>
<path d="M214 61.7L219.4 57.7L224.8 61.7" fill="none" stroke="#000" stroke-width="1.35"/>
<text class="t" font-size="28.7" text-anchor="middle" transform="translate(188.90 560.30) scale(1 1.072)">0</text>
<text class="t" font-size="28.7" text-anchor="middle" transform="translate(261.09 560.30) scale(1 1.072)">20</text>
<text class="t" font-size="28.7" text-anchor="middle" transform="translate(333.28 560.30) scale(1 1.072)">40</text>
<text class="t" font-size="28.7" text-anchor="middle" transform="translate(405.47 560.30) scale(1 1.072)">60</text>
<text class="t" font-size="28.7" text-anchor="middle" transform="translate(477.66 560.30) scale(1 1.072)">80</text>
<text class="t" font-size="28.7" text-anchor="middle" transform="translate(549.85 560.30) scale(1 1.072)">100</text>
<text class="t" font-size="28.7" text-anchor="middle" transform="translate(622.04 560.30) scale(1 1.072)">120</text>
<text class="t" font-size="28.7" text-anchor="middle" transform="translate(694.23 560.30) scale(1 1.072)">140</text>
<text class="t" font-size="28.7" text-anchor="middle" transform="translate(766.42 560.30) scale(1 1.072)">160</text>
<text class="t" font-size="28.7" text-anchor="middle" transform="translate(838.61 560.30) scale(1 1.072)">180</text>
<text class="t" font-size="28.7" text-anchor="middle" transform="translate(910.80 560.30) scale(1 1.072)">200</text>
<text class="t" font-size="28.7" text-anchor="end" transform="translate(110.20 473.00) scale(1 1.072)">0</text>
<text class="t" font-size="28.7" text-anchor="end" transform="translate(110.20 350.34) scale(1 1.072)">200</text>
<text class="t" font-size="28.7" text-anchor="end" transform="translate(110.20 227.68) scale(1 1.072)">400</text>
<text class="t" font-size="28.7" text-anchor="end" transform="translate(110.20 105.02) scale(1 1.072)">600</text>
<text class="t" font-size="28.7" text-anchor="start" transform="translate(506.50 605.60) scale(1 1.072)" font-style="italic">k</text>
<text class="t" font-size="42.5" x="526.1" y="612.0" style="stroke:#fff;stroke-width:0.85px;paint-order:fill">+</text>
<text class="t" font-size="28.7" text-anchor="start" transform="translate(555.80 605.60) scale(1 1.072)">10</text>
<text class="t" font-size="20.5" text-anchor="start" transform="translate(585.20 595.20) scale(1 1.072)">6</text>
<text class="s" font-size="26.8" transform="translate(46.8 338.2) rotate(-90)" textLength="33.9" lengthAdjust="spacingAndGlyphs">NP</text>
<text class="s" font-size="26.8" transform="translate(46.8 300.3) rotate(-90)" textLength="108" lengthAdjust="spacingAndGlyphs">statistics</text>
</g>
</svg></body></html>
